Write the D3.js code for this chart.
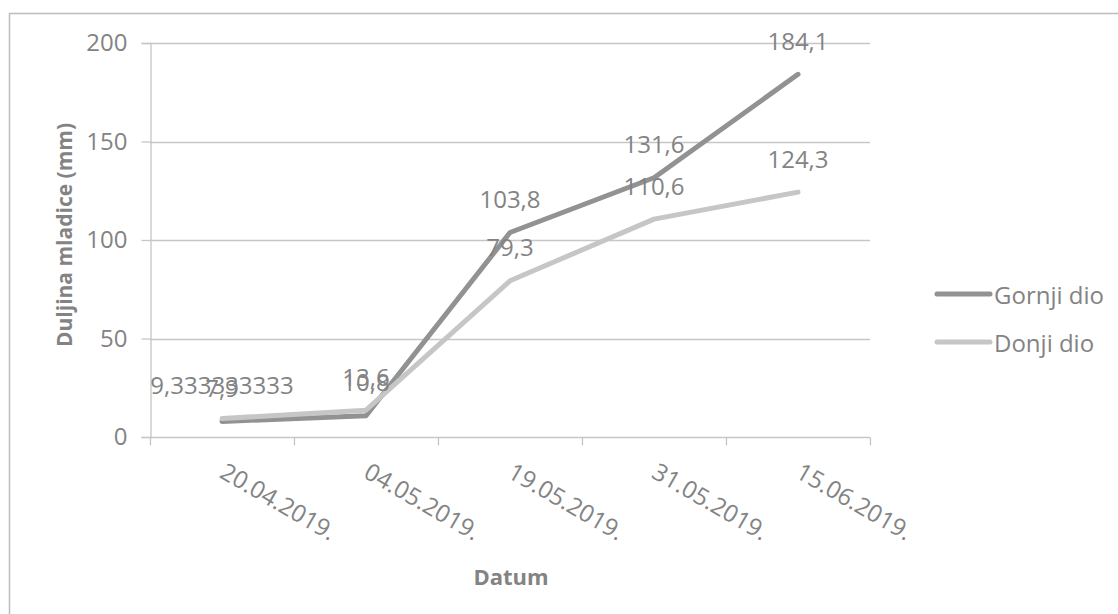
<!DOCTYPE html>
<html>
<head>
<meta charset="utf-8">
<script src="https://cdn.jsdelivr.net/npm/d3@7"></script>
<style>
  html, body { margin: 0; padding: 0; background: #fff; }
  svg { display: block; font-family: "Open Sans", "Noto Sans", sans-serif; }
</style>
</head>
<body>
<svg id="chart" width="1118" height="614"></svg>
<script>
const categories = ["20.04.2019.", "04.05.2019.", "19.05.2019.", "31.05.2019.", "15.06.2019."];
const gornjiDio = [7.9, 10.8, 103.8, 131.6, 184.1];
const donjiDio = [9.333333333, 13.6, 79.3, 110.6, 124.3];
const seriesNames = ["Gornji dio", "Donji dio"];
const yTicks = [0, 50, 100, 150, 200];

const series = [
  { name: seriesNames[0], values: gornjiDio, color: "#929292" },
  { name: seriesNames[1], values: donjiDio, color: "#c6c6c6" }
];

const textColor = "#838383";
const gridColor = "#c6c6c6";
const fs = 24;

const svg = d3.select("#chart");

// outer chart border
svg.append("rect")
  .attr("x", 9.5).attr("y", 13.5)
  .attr("width", 1130).attr("height", 620)
  .attr("fill", "none").attr("stroke", "#bcbcbc").attr("stroke-width", 1.5);

const x = d3.scaleBand().domain(categories).range([150, 870]).padding(0);
const y = d3.scaleLinear().domain([0, 200]).range([437, 43]);
const cx = d => x(d) + x.bandwidth() / 2;

// gridlines
svg.append("g")
  .selectAll("line")
  .data(yTicks.filter(t => t !== 0))
  .join("line")
  .attr("x1", 150).attr("x2", 870)
  .attr("y1", d => Math.round(y(d)) + 0.5).attr("y2", d => Math.round(y(d)) + 0.5)
  .attr("stroke", gridColor).attr("stroke-width", 1.3);

// Y axis
const yAxis = svg.append("g")
  .attr("transform", "translate(150.5,0)")
  .call(d3.axisLeft(y).tickValues(yTicks).tickSize(9).tickPadding(14).tickFormat(d3.format("d")));
yAxis.select(".domain").attr("stroke", gridColor).attr("stroke-width", 1.3);
yAxis.selectAll(".tick line").attr("stroke", gridColor).attr("stroke-width", 1.3);
yAxis.selectAll(".tick text")
  .attr("fill", textColor).attr("font-size", fs)
  .attr("font-family", "'Open Sans', sans-serif");

// X axis
const xAxis = svg.append("g")
  .attr("transform", "translate(0,437.5)");
xAxis.append("line")
  .attr("x1", 150).attr("x2", 870)
  .attr("stroke", gridColor).attr("stroke-width", 1.3);
const boundaries = categories.map(c => x(c)).concat([x.range()[1]]);
xAxis.selectAll("line.tk")
  .data(boundaries)
  .join("line").attr("class", "tk")
  .attr("x1", d => d + 0.5).attr("x2", d => d + 0.5)
  .attr("y1", 0).attr("y2", 8)
  .attr("stroke", gridColor).attr("stroke-width", 1.3);
xAxis.selectAll("text")
  .data(categories)
  .join("text")
  .attr("transform", d => `translate(${cx(d) + 1},${31}) rotate(30)`)
  .attr("text-anchor", "start")
  .attr("dominant-baseline", "central")
  .attr("fill", textColor).attr("font-size", fs)
  .text(d => d);

// axis titles
svg.append("text")
  .attr("x", 511).attr("y", 576)
  .attr("text-anchor", "middle").attr("dominant-baseline", "central")
  .attr("font-weight", "bold").attr("font-size", 22).attr("fill", textColor)
  .text("Datum");
svg.append("text")
  .attr("transform", "translate(64,235) rotate(-90)")
  .attr("text-anchor", "middle").attr("dominant-baseline", "central")
  .attr("font-weight", "bold").attr("font-size", 21).attr("fill", textColor)
  .text("Duljina mladice (mm)");

// lines
const line = d3.line().x((d, i) => cx(categories[i])).y(d => y(d));
svg.append("g")
  .selectAll("path")
  .data(series)
  .join("path")
  .attr("d", d => line(d.values))
  .attr("fill", "none")
  .attr("stroke", d => d.color)
  .attr("stroke-width", 5)
  .attr("stroke-linecap", "round")
  .attr("stroke-linejoin", "round");

// data labels
const fmt = v => String(v).replace(".", ",");
series.forEach(s => {
  svg.append("g")
    .selectAll("text")
    .data(s.values)
    .join("text")
    .attr("x", (d, i) => cx(categories[i]))
    .attr("y", d => y(d) - 34)
    .attr("text-anchor", "middle").attr("dominant-baseline", "central")
    .attr("fill", textColor).attr("font-size", fs)
    .text(d => fmt(d));
});

// legend
const legend = svg.append("g");
series.forEach((s, i) => {
  const ly = 294 + i * 48;
  legend.append("line")
    .attr("x1", 937).attr("x2", 990)
    .attr("y1", ly).attr("y2", ly)
    .attr("stroke", s.color).attr("stroke-width", 5).attr("stroke-linecap", "round");
  legend.append("text")
    .attr("x", 994).attr("y", ly)
    .attr("dominant-baseline", "central")
    .attr("fill", textColor).attr("font-size", fs)
    .text(s.name);
});
</script>
</body>
</html>
